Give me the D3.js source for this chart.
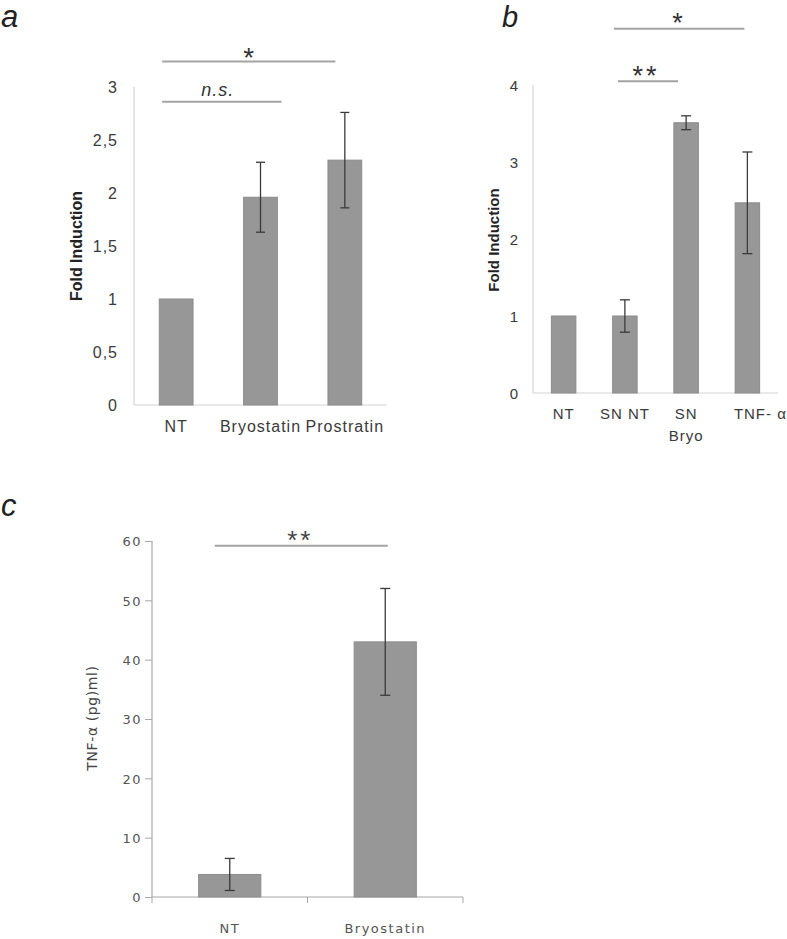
<!DOCTYPE html>
<html><head><meta charset="utf-8">
<script src="https://cdn.jsdelivr.net/npm/d3@7"></script>
<style>body{margin:0;background:#fff}</style>
</head><body>
<svg id="chart" width="787" height="939" xmlns="http://www.w3.org/2000/svg"></svg>
<script>
// ---------- Panel a ----------
const catsA = ["NT", "Bryostatin", "Prostratin"];
const valsA = [1.0, 1.96, 2.31];
const errA  = [0, 0.33, 0.45];
const ticksA = [0, 0.5, 1, 1.5, 2, 2.5, 3];
const tickLabelsA = ["0", "0,5", "1", "1,5", "2", "2,5", "3"];
const sigA = [
  {from: "NT", to: "Prostratin", level: 3.24, label: "*"},
  {from: "NT", to: "Bryostatin", level: 2.86, label: "n.s."}
];

// ---------- Panel b ----------
const catsB = ["NT", "SN NT", "SN\nBryo", "TNF- α"];
const valsB = [1.0, 1.0, 3.51, 2.47];
const errB  = [0, 0.21, 0.09, 0.66];
const ticksB = [0, 1, 2, 3, 4];
const tickLabelsB = ["0", "1", "2", "3", "4"];
const sigB = [
  {from: "SN NT", to: "TNF- α", level: 4.73, label: "*"},
  {from: "SN NT", to: "SN\nBryo", level: 4.05, label: "**"}
];

// ---------- Panel c ----------
const catsC = ["NT", "Bryostatin"];
const valsC = [3.8, 43.0];
const errC  = [2.7, 9.0];
const ticksC = [0, 10, 20, 30, 40, 50, 60];
const tickLabelsC = ["0", "10", "20", "30", "40", "50", "60"];
const sigC = [
  {from: "NT", to: "Bryostatin", level: 59.2, label: "**"}
];

const svg = d3.select("#chart");
const FONT = "'Liberation Sans', Arial, sans-serif";

function panel(cfg) {
  const g = svg.append("g");
  const x = d3.scaleBand().domain(cfg.cats).range(cfg.xr).paddingInner(0.6).paddingOuter(0.3);
  const y = d3.scaleLinear().domain(cfg.yd).range(cfg.yr);

  // y axis
  const yAxis = d3.axisLeft(y).tickValues(cfg.ticks)
    .tickFormat((d, i) => cfg.tickLabels[i])
    .tickSize(cfg.tickLen).tickPadding(cfg.tickPad);
  const ya = g.append("g").attr("transform", `translate(${cfg.xr[0]},0)`).call(yAxis);
  ya.select(".domain").attr("stroke", cfg.axisColor).attr("stroke-width", 1.2)
    .attr("d", `M0,${cfg.yr[1]}V${cfg.yr[0]}`);
  ya.selectAll(".tick line").attr("stroke", cfg.axisColor);
  ya.selectAll(".tick text").attr("font-family", cfg.font).attr("font-size", cfg.tickFs)
    .attr("fill", cfg.textColor).attr("letter-spacing", cfg.ls).attr("dy", "0.36em");

  // x axis
  g.append("line").attr("x1", cfg.xr[0]).attr("x2", cfg.xr[1])
    .attr("y1", y(0)).attr("y2", y(0)).attr("stroke", cfg.axisColor).attr("stroke-width", 1.2);
  if (cfg.xTicks) {
    const bounds = d3.range(cfg.cats.length + 1).map(i => cfg.xr[0] + i * (cfg.xr[1] - cfg.xr[0]) / cfg.cats.length);
    g.selectAll(".xt").data(bounds).join("line")
      .attr("x1", d => d).attr("x2", d => d).attr("y1", y(0)).attr("y2", y(0) + 6)
      .attr("stroke", cfg.axisColor);
  }

  // bars
  g.selectAll(".bar").data(cfg.cats).join("rect")
    .attr("x", d => x(d)).attr("width", x.bandwidth())
    .attr("y", (d, i) => y(cfg.vals[i])).attr("height", (d, i) => y(0) - y(cfg.vals[i]))
    .attr("fill", "#979797").attr("stroke", "#8c8c8c").attr("stroke-width", 1);

  // error bars
  const eb = cfg.cats.map((c, i) => ({c, v: cfg.vals[i], e: cfg.errs[i]})).filter(d => d.e > 0);
  const cx = d => x(d.c) + x.bandwidth() / 2;
  g.selectAll(".eb").data(eb).join("line")
    .attr("x1", cx).attr("x2", cx).attr("y1", d => y(d.v + d.e)).attr("y2", d => y(d.v - d.e))
    .attr("stroke", "#3a3a3a").attr("stroke-width", 1.3);
  [1, -1].forEach(s => {
    g.selectAll(".cap" + s).data(eb).join("line")
      .attr("x1", d => cx(d) - cfg.cap).attr("x2", d => cx(d) + cfg.cap)
      .attr("y1", d => y(d.v + s * d.e)).attr("y2", d => y(d.v + s * d.e))
      .attr("stroke", "#3a3a3a").attr("stroke-width", 1.3);
  });

  // category labels
  cfg.cats.forEach((c, i) => {
    const t = g.append("text").attr("x", x(c) + x.bandwidth() / 2 + (cfg.labelDx[i] || 0))
      .attr("y", cfg.labelY).attr("text-anchor", "middle")
      .attr("font-family", cfg.font).attr("font-size", cfg.catFs)
      .attr("letter-spacing", cfg.ls).attr("fill", cfg.textColor);
    c.split("\n").forEach((line, j) => {
      t.append("tspan").attr("x", x(c) + x.bandwidth() / 2 + (cfg.labelDx[i] || 0))
        .attr("dy", j === 0 ? 0 : cfg.lineH).text(line);
    });
  });

  // y title
  g.append("text").attr("transform", `translate(${cfg.titlePos[0]},${cfg.titlePos[1]}) rotate(-90)`)
    .attr("text-anchor", "middle").attr("font-family", cfg.font)
    .attr("font-size", cfg.titleFs).attr("font-weight", cfg.titleWeight)
    .attr("letter-spacing", cfg.titleLs || 0)
    .attr("fill", cfg.titleColor).text(cfg.title);

  // significance annotations
  cfg.sig.forEach((s, k) => {
    const o = cfg.sigOff[k];
    const x1 = x(s.from) + x.bandwidth() / 2 + o[0];
    const x2 = x(s.to) + x.bandwidth() / 2 + o[1];
    const yy = y(s.level);
    g.append("line").attr("x1", x1).attr("x2", x2).attr("y1", yy).attr("y2", yy)
      .attr("stroke", "#a3a3a3").attr("stroke-width", 2);
    const italic = s.label === "n.s.";
    g.append("text").attr("x", (x1 + x2) / 2 + o[2]).attr("y", yy + o[3])
      .attr("text-anchor", "middle").attr("font-family", FONT)
      .attr("font-size", italic ? 18 : cfg.starFs)
      .attr("font-style", italic ? "italic" : "normal")
      .attr("letter-spacing", italic ? 1 : cfg.starLs)
      .attr("fill", cfg.sigColor).text(s.label);
  });

  // panel letter
  svg.append("text").attr("x", cfg.letterPos[0]).attr("y", cfg.letterPos[1])
    .attr("font-family", FONT).attr("font-style", "italic").attr("font-size", cfg.letterFs)
    .attr("fill", "#222").text(cfg.letter);
}

panel({
  cats: catsA, vals: valsA, errs: errA, ticks: ticksA, tickLabels: tickLabelsA, sig: sigA,
  xr: [134, 387], yd: [0, 3], yr: [405, 87],
  tickLen: 0, tickPad: 16, tickFs: 16, catFs: 16, ls: 1, font: FONT,
  axisColor: "#d4d4d4", textColor: "#3a3a3a", xTicks: false,
  labelY: 432, labelDx: [0, 0, 0], lineH: 22, cap: 4.5,
  title: "Fold Induction", titlePos: [82, 246], titleFs: 16, titleWeight: "bold", titleColor: "#222",
  sigOff: [[-14, -9.5, 0, 5], [-14, 21, -4, -6]], starFs: 28, starLs: 0, sigColor: "#333",
  letter: "a", letterPos: [1, 27], letterFs: 31
});

panel({
  cats: catsB, vals: valsB, errs: errB, ticks: ticksB, tickLabels: tickLabelsB, sig: sigB,
  xr: [533, 778], yd: [0, 4], yr: [393, 85],
  tickLen: 0, tickPad: 14, tickFs: 15, catFs: 15, ls: 1, font: FONT,
  axisColor: "#d4d4d4", textColor: "#3a3a3a", xTicks: false,
  labelY: 419, labelDx: [0, 0, 0, 13], lineH: 22, cap: 5,
  title: "Fold Induction", titlePos: [499, 240], titleFs: 15, titleWeight: "bold", titleColor: "#222",
  sigOff: [[-11, -3, 0, 3], [-7, -8, -2, 4]], starFs: 27, starLs: 3, sigColor: "#333",
  letter: "b", letterPos: [502, 27], letterFs: 29
});

panel({
  cats: catsC, vals: valsC, errs: errC, ticks: ticksC, tickLabels: tickLabelsC, sig: sigC,
  xr: [152, 463], yd: [0, 60], yr: [897, 541],
  tickLen: 7, tickPad: 3, tickFs: 13, catFs: 13, ls: 1.5, font: "'DejaVu Sans', Verdana, sans-serif",
  axisColor: "#a8a8a8", textColor: "#555", xTicks: true,
  labelY: 933, labelDx: [0, 0], lineH: 18, cap: 5,
  title: "TNF-α  (pg)ml)", titlePos: [97, 718], titleFs: 14, titleWeight: "normal", titleColor: "#444", titleLs: 0.6,
  sigOff: [[-15, 2.5, -1, 3]], starFs: 26, starLs: 3, sigColor: "#444",
  letter: "c", letterPos: [1, 516], letterFs: 31
});
</script>
</body></html>
